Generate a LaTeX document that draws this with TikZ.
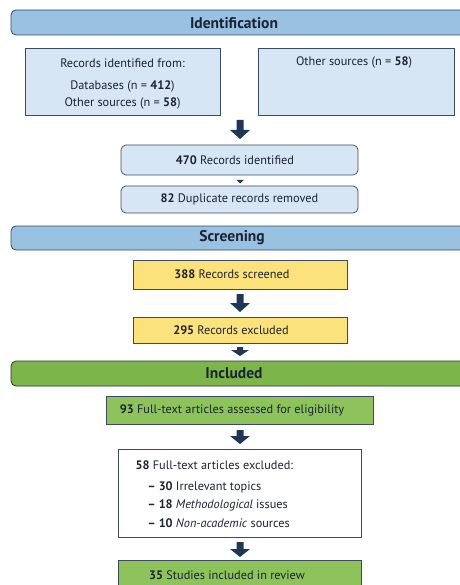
\documentclass[tikz,border=0pt]{standalone}
\usepackage{fontspec}
\setmainfont{PT Sans}
\usetikzlibrary{positioning}
\definecolor{hdrblue}{HTML}{98C1E2}
\definecolor{boxblue}{HTML}{D6E6F4}
\definecolor{edge}{HTML}{3A4A60}
\definecolor{ylw}{HTML}{FBE27A}
\definecolor{hdrgreen}{HTML}{7CB64A}
\definecolor{boxgreen}{HTML}{8DC35A}
\definecolor{arrowc}{HTML}{1F3656}
\definecolor{txt}{HTML}{1C2333}
\begin{document}
\begin{tikzpicture}[x=1pt,y=-1pt,
  font=\fontsize{12.3}{14}\selectfont, text=txt,
  hfont/.style={font=\fontsize{15.5}{17}\selectfont\bfseries},
  bx/.style={draw=edge, line width=0.7pt},
]
\useasboundingbox (0,0) rectangle (459,585);
% headers
\fill[hdrblue, draw=edge, line width=0.8pt, rounded corners=5pt] (11,35) -- (11,10) -- (470,10) -- (470,35) -- cycle;
\node[hfont] (hid) at (234,23) {Identification};
\fill[hdrblue, draw=edge, line width=0.8pt, rounded corners=5pt] (11,250) -- (11,226) -- (470,226) -- (470,250) -- cycle;
\node[hfont] (hsc) at (232,238) {Screening};
\fill[hdrgreen, draw=edge!70!hdrgreen!50!black, line width=0.8pt, rounded corners=5pt] (11,386) -- (11,361) -- (470,361) -- (470,386) -- cycle;
\node[hfont] (hin) at (234,373) {Included};

% identification boxes
\draw[bx, fill=boxblue] (25,48) rectangle (220,115);
\node (l1) at (122.5,63) {Records identified from:};
\node (l2) at (122.5,86) {Databases (n = \textbf{412})};
\node (l3) at (122.5,103) {Other sources (n = \textbf{58})};
\draw[bx, fill=boxblue] (258,48) rectangle (454,115);
\node (r1) at (354,62) {Other sources (n = \textbf{58})};

% arrow 1
\fill[arrowc] (236.5,120) -- (243.5,120) -- (243.5,130) -- (250,130) -- (240,139) -- (230,130) -- (236.5,130) -- cycle;

\draw[bx, fill=boxblue, rounded corners=5pt] (121,145) rectangle (358,175);
\node (n470) at (235,160) {\textbf{470} Records identified};
\fill[arrowc] (236.5,180) -- (243.5,180) -- (240,183.5) -- cycle;
\draw[bx, fill=boxblue, rounded corners=5pt] (121,186) rectangle (358,213);
\node (n82) at (239.5,199.5) {\textbf{82} Duplicate records removed};

% screening
\draw[bx, fill=ylw] (133,260) rectangle (347,289);
\node (n388) at (232,274.5) {\textbf{388} Records screened};
\fill[arrowc] (236.5,294) -- (243.5,294) -- (243.5,303) -- (250,303) -- (240,312) -- (230,303) -- (236.5,303) -- cycle;
\draw[bx, fill=ylw] (133,317) rectangle (347,343);
\node (n295) at (231,330) {\textbf{295} Records excluded};
\fill[arrowc] (237,347) -- (243,347) -- (243,350) -- (249,350) -- (240,356) -- (231,350) -- (237,350) -- cycle;

% included
\draw[bx, fill=boxgreen] (106,396) rectangle (373,424);
\node (n93) at (232,410) {\textbf{93} Full-text articles assessed for eligibility};
\fill[arrowc] (236.5,430) -- (243.5,430) -- (243.5,436) -- (250,436) -- (240,444) -- (230,436) -- (236.5,436) -- cycle;
\draw[bx, fill=white] (118,449) rectangle (361,537);
\node[anchor=west] (e0) at (132,465) {\textbf{58} Full-text articles excluded:};
\node[anchor=west] (e1) at (144,487) {\textbf{– 30} Irrelevant topics};
\node[anchor=west] (e2) at (144,505) {\textbf{– 18} \textit{Methodological} issues};
\node[anchor=west] (e3) at (144,523) {\textbf{– 10} \textit{Non-academic} sources};
\fill[arrowc] (236.5,542) -- (243.5,542) -- (243.5,549) -- (250,549) -- (240,557) -- (230,549) -- (236.5,549) -- cycle;
\draw[bx, fill=boxgreen] (118,560) rectangle (361,600);
\node (n35) at (227,575) {\textbf{35} Studies included in review};
\end{tikzpicture}
\end{document}
